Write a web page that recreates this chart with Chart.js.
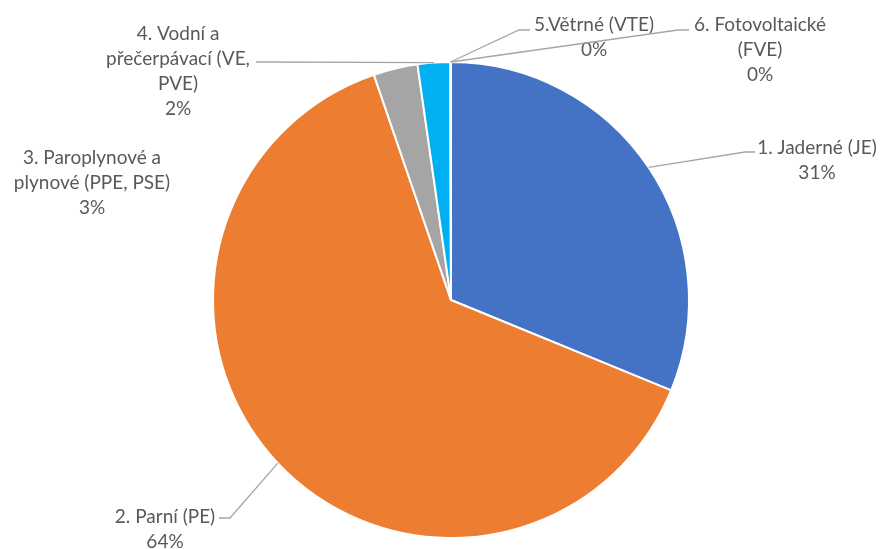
<!DOCTYPE html>
<html>
<head>
<meta charset="utf-8">
<script src="https://cdn.jsdelivr.net/npm/chart.js@4"></script>
<style>
  html, body { margin: 0; padding: 0; background: #fff; }
  #wrap { width: 881px; height: 549px; position: relative; }
</style>
</head>
<body>
<div id="wrap"><canvas id="pie"></canvas></div>
<script>
// data (share of installed capacity, %)
const categories = [
    ['1. Jaderné (JE)'],
    ['2. Parní (PE)'],
    ['3. Paroplynové a', 'plynové (PPE, PSE)'],
    ['4. Vodní a', 'přečerpávací (VE,', 'PVE)'],
    ['5.Větrné (VTE)'],
    ['6. Fotovoltaické', '(FVE)']
];
const shares = [31.2, 63.55, 3.0, 2.2, 0.03, 0.02];
const sliceColors = ['#4472C4', '#ED7D31', '#A5A5A5', '#00B0F0', '#5B9BD5', '#70AD47'];

// where each data label sits (text centre, first line) and its leader elbow
const labelLayout = [
    { x: 817, y: 148, leader: [[745, 152], [755, 152]] },
    { x: 165, y: 517, leader: [[230, 518], [219, 518]] },
    { x: 92, y: 158, leader: null },
    { x: 178, y: 34, leader: [[262, 62], [256, 62]] },
    { x: 594, y: 25, leader: [[519, 30], [530, 30]] },
    { x: 760, y: 25, leader: [[678, 30], [689, 30]] }
];

const LINE_H = 25;
const FONT = '19px Lato, "Noto Sans", sans-serif';

const total = shares.reduce((a, b) => a + b, 0);

const pieLabels = {
    id: 'pieLabels',
    afterDatasetsDraw(chart) {
        const ctx = chart.ctx;
        const meta = chart.getDatasetMeta(0);
        ctx.save();
        meta.data.forEach((arc, i) => {
            const pos = labelLayout[i];
            const mid = (arc.startAngle + arc.endAngle) / 2;
            const ex = arc.x + Math.cos(mid) * arc.outerRadius;
            const ey = arc.y + Math.sin(mid) * arc.outerRadius;

            if (pos.leader) {
                ctx.strokeStyle = '#A6A6A6';
                ctx.lineWidth = 1.3;
                ctx.beginPath();
                ctx.moveTo(ex, ey);
                pos.leader.forEach(p => ctx.lineTo(p[0], p[1]));
                ctx.stroke();
            }

            const pct = Math.round(shares[i] / total * 100) + '%';
            const lines = categories[i].concat([pct]);
            ctx.fillStyle = '#595959';
            ctx.font = FONT;
            ctx.textAlign = 'center';
            ctx.textBaseline = 'middle';
            lines.forEach((t, k) => {
                ctx.fillText(t, pos.x, pos.y + k * LINE_H);
            });
        });
        ctx.restore();
    }
};

new Chart(document.getElementById('pie'), {
    type: 'pie',
    data: {
        labels: categories.map(c => c.join(' ')),
        datasets: [{
            data: shares,
            backgroundColor: sliceColors,
            borderColor: '#FFFFFF',
            borderWidth: 2
        }]
    },
    options: {
        responsive: true,
        maintainAspectRatio: false,
        animation: false,
        layout: { padding: { left: 212, right: 191, top: 61, bottom: 10 } },
        plugins: {
            legend: { display: false },
            tooltip: { enabled: false }
        }
    },
    plugins: [pieLabels]
});
</script>
</body>
</html>
